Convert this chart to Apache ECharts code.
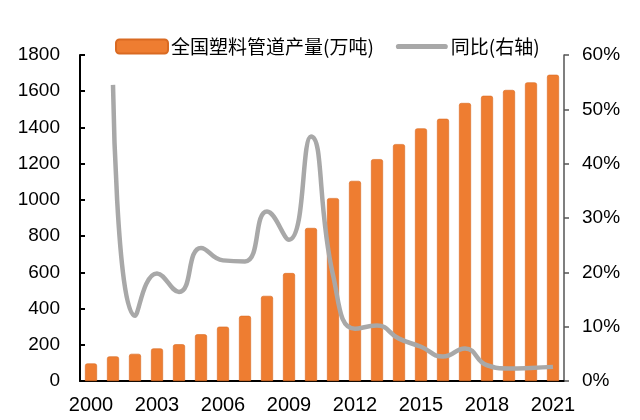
<!DOCTYPE html>
<html><head><meta charset="utf-8">
<script src="https://cdn.jsdelivr.net/npm/echarts@6/dist/echarts.min.js"></script>
<style>html,body{margin:0;padding:0;background:#fff}#c{width:640px;height:420px}</style>
</head><body><div id="c"></div>
<script>
const years = ['2000','2001','2002','2003','2004','2005','2006','2007','2008','2009','2010','2011','2012','2013','2014','2015','2016','2017','2018','2019','2020','2021'];
const output = [97,136,150,180,203,258,300,360,470,596,845,1010,1105,1225,1308,1395,1448,1535,1575,1607,1649,1691];
const yoy = [null,54.5,12.0,19.8,16.4,24.5,22.2,22.0,31.2,26.0,45.0,19.5,9.6,10.2,7.8,6.3,4.5,6.0,2.9,2.3,2.4,2.6];
const barName = '全国塑料管道产量(万吨)';
const lineName = '同比(右轴)';

const font = '"Liberation Sans", Arial, "Noto Sans CJK SC", sans-serif';
const chart = echarts.init(document.getElementById('c'));
chart.setOption({
  animation: false,
  backgroundColor: '#fff',
  textStyle: { fontFamily: font },
  legend: {
    top: 32, left: 110, itemGap: 22, itemWidth: 52, itemHeight: 14,
    textStyle: { fontSize: 19, color: '#000', fontFamily: '"Noto Sans CJK SC", sans-serif', padding: [0,0,0,-2] },
    data: [
      { name: barName, icon: 'roundRect' },
      { name: lineName, icon: 'path://M2,0 L48,0 A2.5,2.5 0 0 1 48,5 L2,5 A2.5,2.5 0 0 1 2,0 Z', itemStyle: { color: '#A8A8A8' } }
    ]
  },
  grid: { left: 80, right: 76, top: 55, bottom: 39 },
  xAxis: {
    type: 'category', data: years, boundaryGap: true,
    axisLine: { lineStyle: { color: '#000', width: 2 } },
    axisTick: { inside: true, length: 6, lineStyle: { color: '#000', width: 2 }, interval: 0 },
    axisLabel: { interval: 2, color: '#000', fontSize: 20, margin: 14, fontFamily: font }
  },
  yAxis: [
    {
      type: 'value', min: 0, max: 1800, interval: 200,
      axisLine: { show: true, lineStyle: { color: '#000', width: 2 } },
      axisTick: { show: true, inside: true, length: 5, lineStyle: { color: '#000', width: 2 } },
      splitLine: { show: false },
      axisLabel: { formatter: function (v) { return String(v); }, color: '#000', fontSize: 19, margin: 20, fontFamily: font }
    },
    {
      type: 'value', min: 0, max: 60, interval: 10,
      position: 'right',
      axisLine: { show: true, lineStyle: { color: '#555', width: 1.5 } },
      axisTick: { show: true, length: 5, lineStyle: { color: '#555', width: 1.5 } },
      splitLine: { show: false },
      axisLabel: { formatter: '{value}%', color: '#000', fontSize: 19, margin: 18, fontFamily: font }
    }
  ],
  series: [
    {
      name: barName, type: 'bar', data: output, yAxisIndex: 0,
      barWidth: 12,
      itemStyle: { color: '#EE7D31', borderColor: '#D96A22', borderWidth: 0.6, borderRadius: [2,2,0,0] }
    },
    {
      name: lineName, type: 'line', data: yoy, yAxisIndex: 1,
      smooth: 0.5, showSymbol: false, symbol: 'none',
      lineStyle: { color: '#A8A8A8', width: 4.5 },
      itemStyle: { color: '#A8A8A8' }
    }
  ]
});
</script></body></html>
